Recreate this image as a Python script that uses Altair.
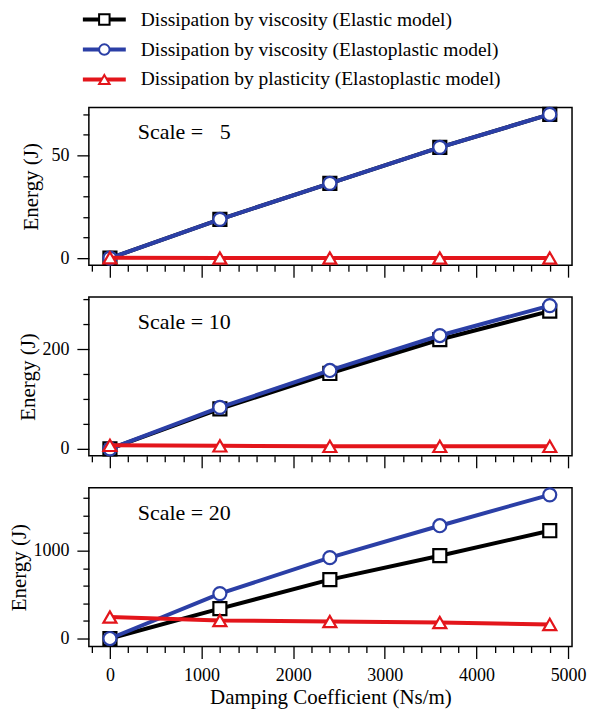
import altair as alt
import pandas as pd

# ---------------- data ----------------
damping = [0, 1200, 2400, 3600, 4800]

series_names = [
    "Dissipation by viscosity (Elastic model)",
    "Dissipation by viscosity (Elastoplastic model)",
    "Dissipation by plasticity (Elastoplastic model)",
]
series_colors = ["#000000", "#2B3FA6", "#E3151B"]
series_shapes = ["square", "circle", "triangle-up"]

scales = [5, 10, 20]
scale_labels = ["Scale = \u00a0\u00a05", "Scale = 10", "Scale = 20"]

# Scale = 5
s5_visc_elastic = [0, 18.9, 36.4, 53.9, 69.9]
s5_visc_elastoplastic = [0, 18.9, 36.4, 53.9, 69.9]
s5_plasticity = [0.2, 0.1, 0.1, 0.1, 0.1]
# Scale = 10
s10_visc_elastic = [0, 80, 151, 219, 276]
s10_visc_elastoplastic = [0, 83, 157, 227, 287]
s10_plasticity = [7, 6, 5, 5, 5]
# Scale = 20
s20_visc_elastic = [0, 341, 670, 943, 1227]
s20_visc_elastoplastic = [0, 511, 920, 1284, 1636]
s20_plasticity = [245, 205, 193, 182, 160]

y_domains = {5: [-3.4, 73.3], 10: [-14, 304], 20: [-91, 1716]}
y_tick_values = {5: list(range(0, 71, 10)), 10: list(range(0, 301, 50)), 20: list(range(0, 1601, 200))}
y_major = {5: 50, 10: 200, 20: 1000}
x_domain = [-230, 5043]
x_tick_values = list(range(-200, 5001, 200))

series_by_scale = {
    5: [s5_visc_elastic, s5_visc_elastoplastic, s5_plasticity],
    10: [s10_visc_elastic, s10_visc_elastoplastic, s10_plasticity],
    20: [s20_visc_elastic, s20_visc_elastoplastic, s20_plasticity],
}

rows = []
for sc in scales:
    for name, vals in zip(series_names, series_by_scale[sc]):
        for xv, yv in zip(damping, vals):
            rows.append({"scale": sc, "series": name, "damping": xv, "energy": yv})
df = pd.DataFrame(rows)

FONT = "Liberation Serif"
PANEL_W = 484


def panel(sc, label, show_x, title_pad, height):
    d = df[df["scale"] == sc]
    xaxis_kw = dict(
        values=x_tick_values,
        format="d",
        labelExpr="datum.value % 1000 === 0 ? datum.label : ''",
        tickSize={"condition": {"test": "datum.value % 1000 === 0", "value": 12}, "value": 6},
        labels=show_x,
        labelPadding=8,
        titlePadding=2,
        labelOverlap=False,
    )
    if show_x:
        xaxis_kw["title"] = "Damping Coefficient (Ns/m)"
    else:
        xaxis_kw["title"] = None
    major = y_major[sc]
    x = alt.X(
        "damping:Q",
        scale=alt.Scale(domain=x_domain, nice=False, zero=False),
        axis=alt.Axis(**xaxis_kw),
    )
    y = alt.Y(
        "energy:Q",
        scale=alt.Scale(domain=y_domains[sc], nice=False, zero=False),
        axis=alt.Axis(
            values=y_tick_values[sc],
            format="d",
            labelExpr=f"datum.value % {major} === 0 ? datum.label : ''",
            tickSize={"condition": {"test": f"datum.value % {major} === 0", "value": 12}, "value": 6},
            title="Energy (J)",
            titlePadding=title_pad,
            labelPadding=8,
            labelOverlap=False,
        ),
    )
    layers = []
    for name, color, shape in zip(series_names, series_colors, series_shapes):
        sub = alt.Chart(d).transform_filter(alt.datum.series == name)
        layers.append(sub.mark_line(color=color, strokeWidth=4).encode(x=x, y=y))
        layers.append(
            sub.mark_point(
                shape=shape, filled=True, fill="white", stroke=color,
                strokeWidth=2.2, size=170, opacity=1,
            ).encode(x=x, y=y)
        )
    txt = alt.Chart(pd.DataFrame({"label": [label]})).mark_text(
        align="left", baseline="alphabetic", font=FONT, fontSize=22, color="black"
    ).encode(x=alt.value(49), y=alt.value(32), text="label:N")
    layers.append(txt)
    return alt.layer(*layers).properties(width=PANEL_W, height=height)


# ---------------- legend ----------------
leg_df = pd.DataFrame({"series": series_names, "order": [1, 2, 3]})
ly = alt.Y("order:Q", scale=alt.Scale(domain=[0.7, 2.8667], reverse=True), axis=None)
lcolor = alt.Scale(domain=series_names, range=series_colors)
lbase = alt.Chart(leg_df)
leg_rule = lbase.mark_rule(strokeWidth=4).encode(
    x=alt.value(-6), x2=alt.value(37), y=ly,
    color=alt.Color("series:N", scale=lcolor, legend=None),
)
leg_pts = lbase.mark_point(filled=True, fill="white", strokeWidth=2, size=110, opacity=1).encode(
    x=alt.value(15.5), y=ly,
    stroke=alt.Stroke("series:N", scale=lcolor, legend=None),
    shape=alt.Shape("series:N", scale=alt.Scale(domain=series_names, range=series_shapes), legend=None),
)
leg_text = lbase.mark_text(align="left", baseline="middle", font=FONT, fontSize=19.5, color="black").encode(
    x=alt.value(52), y=ly, text="series:N"
)
legend = alt.layer(leg_rule, leg_pts, leg_text).properties(
    width=PANEL_W, height=65, view=alt.ViewBackground(strokeOpacity=0)
)

p1 = panel(5, scale_labels[0], False, 9, 158)
p2 = panel(10, scale_labels[1], False, 3, 159)
p3 = panel(20, scale_labels[2], True, 3, 159)

chart = alt.vconcat(legend, p1, p2, p3, spacing=32, bounds="flush").properties(
    padding={"left": 0, "top": 0, "right": 0, "bottom": 0}
).configure_view(
    stroke="black", strokeWidth=1.5
).configure_axis(
    domain=False, grid=False,
    tickColor="black", tickWidth=1.3,
    labelFont=FONT, labelFontSize=18, labelColor="black",
    titleFont=FONT, titleFontSize=21, titleFontWeight="normal", titleColor="black",
)

chart.save("out.html", embed_options={"renderer": "svg", "actions": False})
